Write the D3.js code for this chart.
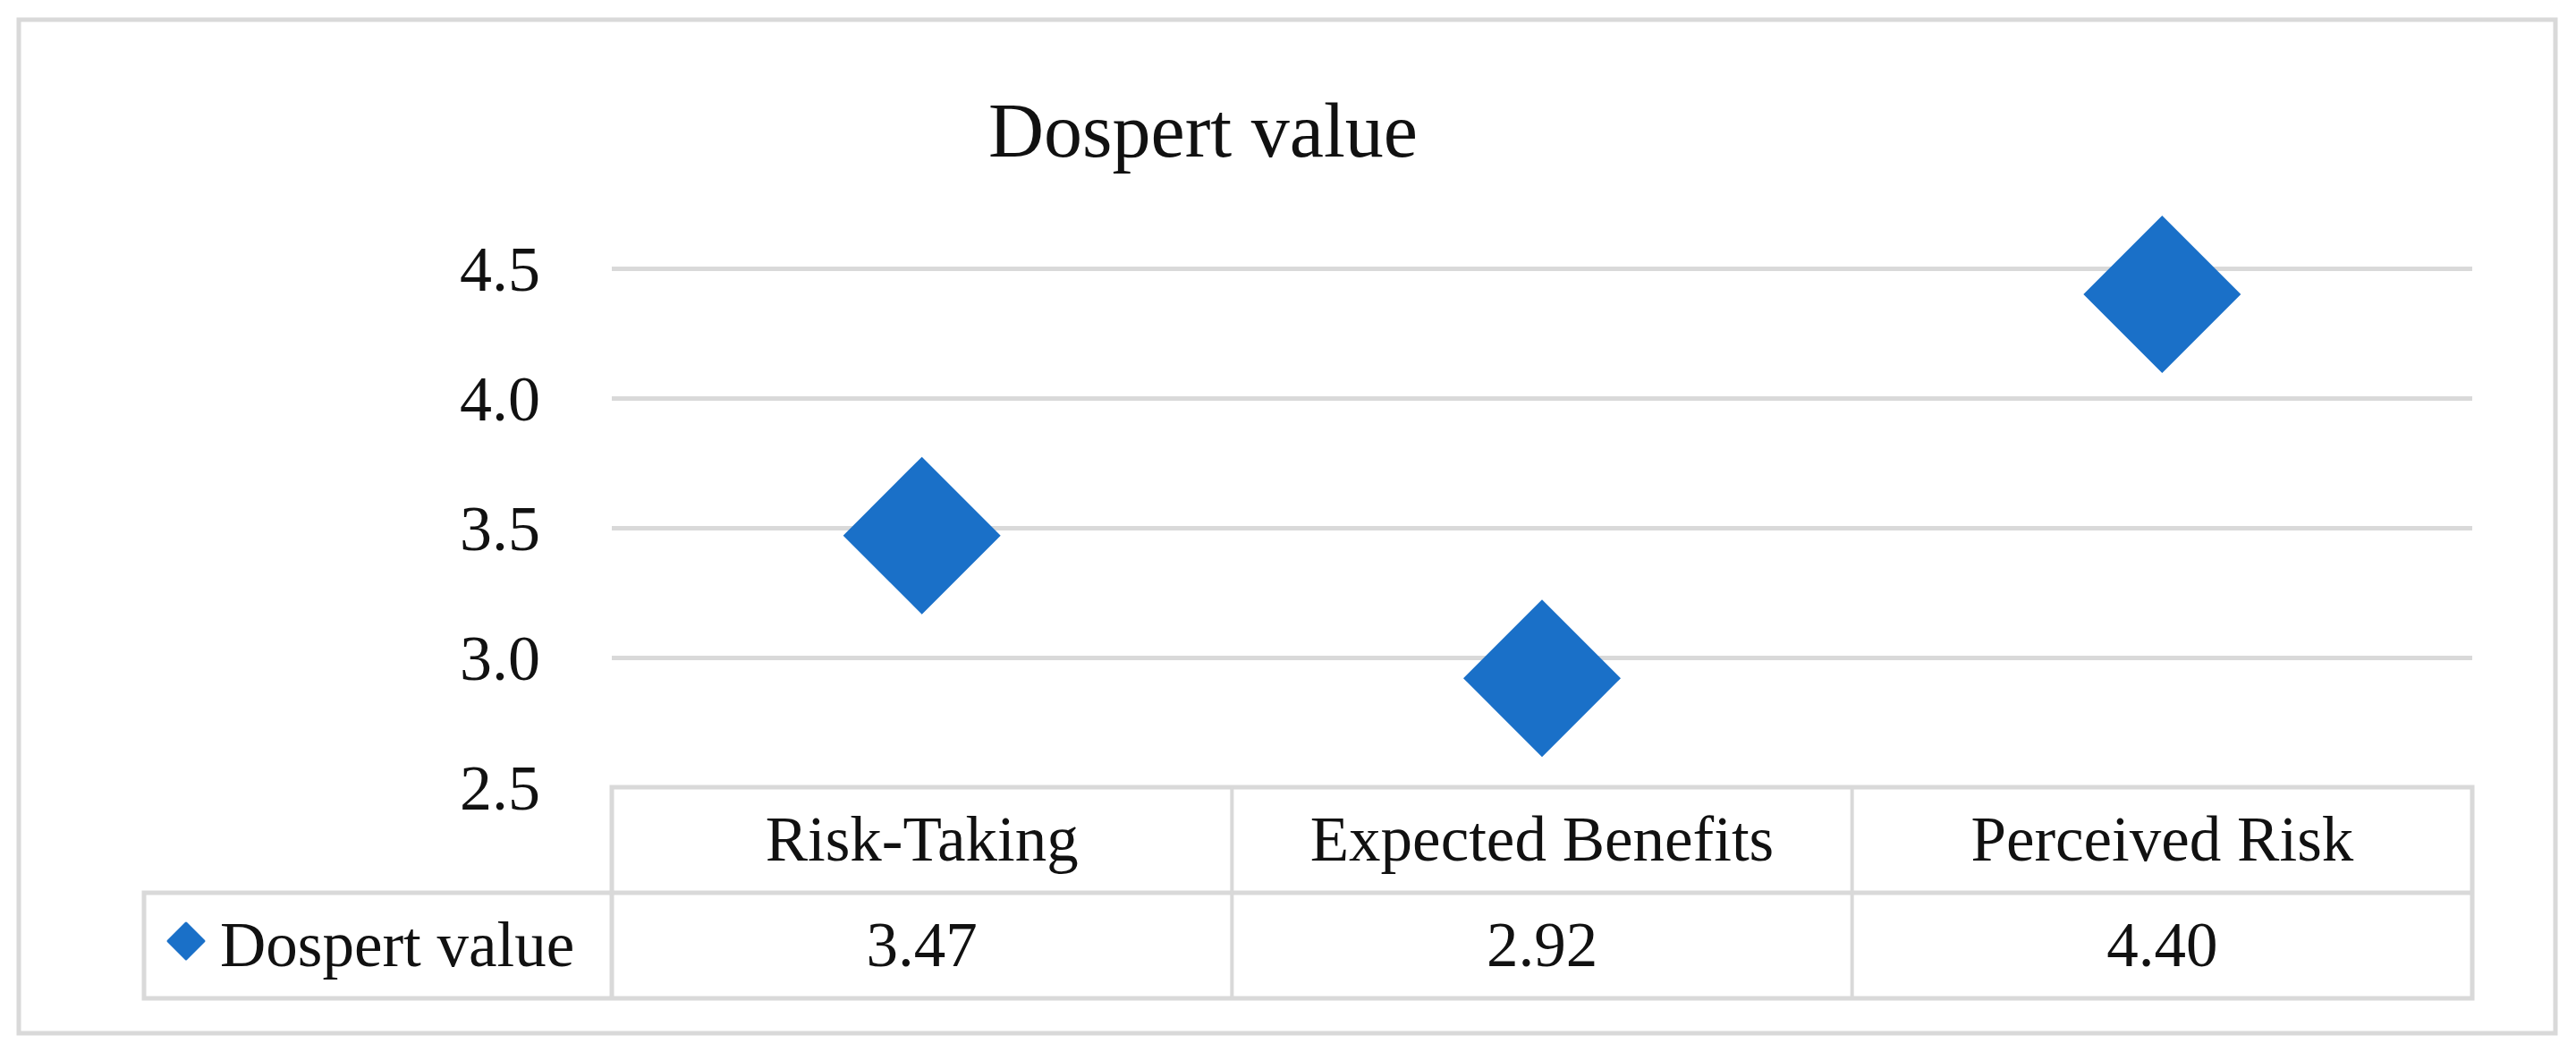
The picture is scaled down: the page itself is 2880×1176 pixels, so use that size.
<!DOCTYPE html>
<html>
<head>
<meta charset="utf-8">
<script src="https://cdn.jsdelivr.net/npm/d3@7"></script>
<style>
  html, body { margin: 0; padding: 0; background: #fff; }
  svg { display: block; }
  text { font-family: "Liberation Serif", "DejaVu Serif", serif; fill: #111; }
</style>
</head>
<body>
<div id="app"></div>
<script>
"use strict";

// chart data
const title = 'Dospert value';
const seriesName = 'Dospert value';
const categories = ['Risk-Taking', 'Expected Benefits', 'Perceived Risk'];
const values = [3.47, 2.92, 4.40];
const valueLabels = ['3.47', '2.92', '4.40'];
const yTicks = [2.5, 3.0, 3.5, 4.0, 4.5];

const W = 2880, H = 1176;
const gray = '#d9d9d9';
const blue = '#1a70c8';

const svg = d3.select('#app').append('svg')
    .attr('width', W)
    .attr('height', H);

// outer frame
svg.append('rect')
    .attr('x', 21).attr('y', 22)
    .attr('width', 2836).attr('height', 1133)
    .attr('fill', '#fff')
    .attr('stroke', gray)
    .attr('stroke-width', 5);

// title
svg.append('text')
    .attr('x', 1345)
    .attr('y', 175)
    .attr('text-anchor', 'middle')
    .style('font-size', '86px')
    .text(title);

// scales
const x = d3.scaleBand().domain(categories).range([684, 2764]);
const y = d3.scaleLinear().domain([2.5, 4.5]).range([880, 300]);

// gridlines
const grid = svg.append('g')
    .attr('transform', 'translate(684,0)')
    .call(d3.axisLeft(y).tickValues(yTicks.slice(1)).tickSize(-(2764 - 684)).tickFormat(''));
grid.select('.domain').remove();
grid.selectAll('.tick line').attr('stroke', gray).attr('stroke-width', 5);

// y labels
const yAxis = svg.append('g')
    .attr('transform', 'translate(604,0)')
    .call(d3.axisLeft(y).tickValues(yTicks).tickSize(0).tickPadding(0).tickFormat(d3.format('.1f')));
yAxis.select('.domain').remove();
yAxis.selectAll('text')
    .attr('dy', null)
    .attr('y', 24)
    .style('font-size', '72px')
    .style('font-family', '"Liberation Serif", serif')
    .attr('fill', '#111');

// data table
const headTop = y(2.5), rowMid = 998, rowBot = 1116, tableLeft = 161;
const table = svg.append('g');
table.append('path')
    .attr('d', `M${x.range()[0]},${rowBot}V${headTop}H${x.range()[1]}V${rowBot}H${tableLeft}V${rowMid}H${x.range()[1]}`)
    .attr('fill', 'none')
    .attr('stroke', gray)
    .attr('stroke-width', 5);
table.selectAll('line.sep')
    .data(categories.slice(1))
    .join('line')
    .attr('class', 'sep')
    .attr('x1', d => x(d)).attr('x2', d => x(d))
    .attr('y1', headTop).attr('y2', rowBot)
    .attr('stroke', gray)
    .attr('stroke-width', 4);

table.selectAll('text.cat')
    .data(categories)
    .join('text')
    .attr('class', 'cat')
    .attr('x', d => x(d) + x.bandwidth() / 2)
    .attr('y', 962)
    .attr('text-anchor', 'middle')
    .style('font-size', '71px')
    .text(d => d);

table.selectAll('text.val')
    .data(valueLabels)
    .join('text')
    .attr('class', 'val')
    .attr('x', (d, i) => x(categories[i]) + x.bandwidth() / 2)
    .attr('y', 1080)
    .attr('text-anchor', 'middle')
    .style('font-size', '71px')
    .text(d => d);

// legend key in table
const diamond = (r) => `M0,${-r}L${r},0L0,${r}L${-r},0Z`;
table.append('path')
    .attr('transform', 'translate(208,1052)')
    .attr('d', diamond(20))
    .attr('fill', blue)
    .attr('stroke', blue)
    .attr('stroke-linejoin', 'round')
    .attr('stroke-width', 3);
table.append('text')
    .attr('x', 246)
    .attr('y', 1080)
    .style('font-size', '71px')
    .text(seriesName);

// markers
svg.append('g').selectAll('path')
    .data(values)
    .join('path')
    .attr('transform', (d, i) => `translate(${x(categories[i]) + x.bandwidth() / 2},${y(d)})`)
    .attr('d', diamond(88))
    .attr('fill', blue);
</script>
</body>
</html>
